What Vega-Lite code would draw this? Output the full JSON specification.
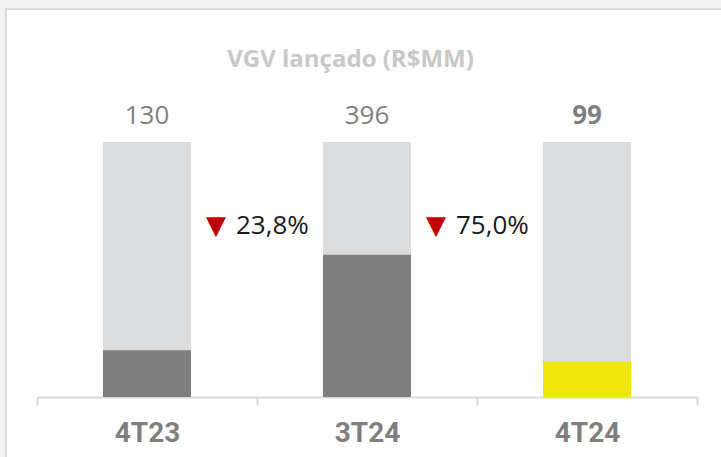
{
  "$schema": "https://vega.github.io/schema/vega-lite/v6.json",
  "width": 725,
  "height": 455,
  "autosize": {"type": "none"},
  "padding": {"left": 6, "top": 9, "right": 0, "bottom": 0},
  "background": "#f2f2f2",
  "config": {"view": {"fill": "white", "stroke": "#dcdcdc", "strokeWidth": 2}},
  "title": {
    "text": "VGV lançado (R$MM)",
    "font": "Open Sans",
    "fontSize": 24,
    "fontWeight": "bold",
    "color": "#c8c8c8",
    "anchor": "middle",
    "baseline": "alphabetic",
    "offset": 0,
    "dx": -18,
    "dy": 82
  },
  "data": {
    "values": [
      {"periodo": "4T23", "valor": 130, "rotulo": "130", "total": 710, "destaque": "anterior"},
      {"periodo": "3T24", "valor": 396, "rotulo": "396", "total": 710, "destaque": "anterior"},
      {"periodo": "4T24", "valor": 99, "rotulo": "99", "total": 710, "destaque": "atual"}
    ]
  },
  "encoding": {
    "x": {
      "field": "periodo",
      "type": "nominal",
      "sort": ["4T23", "3T24", "4T24"],
      "scale": {"type": "band", "range": [31, 691], "paddingInner": 0, "paddingOuter": 0},
      "axis": {
        "title": null,
        "orient": "bottom",
        "offset": -67,
        "labelAngle": 0,
        "domainColor": "#d9d9d9",
        "domainWidth": 2,
        "tickBand": "extent",
        "tickColor": "#d9d9d9",
        "tickWidth": 2,
        "tickSize": 8,
        "labelFont": "Roboto",
        "labelFontSize": 28,
        "labelFontWeight": "bold",
        "labelColor": "#7f7f7f",
        "labelPadding": 14,
        "grid": false
      }
    }
  },
  "layer": [
    {
      "mark": {"type": "bar", "width": {"band": 0.4}, "color": "#dadbdd"},
      "encoding": {
        "y": {"field": "total", "type": "quantitative", "scale": {"domain": [0, 710], "range": [388, 133], "nice": false}, "axis": null}
      }
    },
    {
      "mark": {"type": "bar", "width": {"band": 0.4}},
      "encoding": {
        "y": {"field": "valor", "type": "quantitative"},
        "color": {"field": "destaque", "type": "nominal", "scale": {"domain": ["anterior", "atual"], "range": ["#7f7f7f", "#efe60a"]}, "legend": null}
      }
    },
    {
      "transform": [{"filter": "datum.destaque == 'anterior'"}],
      "mark": {"type": "text", "font": "Open Sans", "fontSize": 26, "color": "#7f7f7f", "baseline": "alphabetic", "dy": -18},
      "encoding": {
        "y": {"field": "total", "type": "quantitative"},
        "text": {"field": "rotulo"}
      }
    },
    {
      "transform": [{"filter": "datum.destaque == 'atual'"}],
      "mark": {"type": "text", "font": "Open Sans", "fontSize": 26, "fontWeight": "bold", "color": "#7f7f7f", "baseline": "alphabetic", "dy": -18},
      "encoding": {
        "y": {"field": "total", "type": "quantitative"},
        "text": {"field": "rotulo"}
      }
    },
    {
      "data": {"values": [{"periodo": "4T23", "variacao": "23,8%"}, {"periodo": "3T24", "variacao": "75,0%"}]},
      "mark": {"type": "text", "text": "▼", "font": "DejaVu Sans", "fontSize": 26, "color": "#c00000", "baseline": "middle", "dx": -41},
      "encoding": {
        "x": {"field": "periodo", "type": "nominal", "bandPosition": 1},
        "y": {"datum": 476}
      }
    },
    {
      "data": {"values": [{"periodo": "4T23", "variacao": "23,8%"}, {"periodo": "3T24", "variacao": "75,0%"}]},
      "mark": {"type": "text", "font": "Open Sans", "fontSize": 26, "color": "#1a1a1a", "baseline": "middle", "align": "left", "dx": -21},
      "encoding": {
        "x": {"field": "periodo", "type": "nominal", "bandPosition": 1},
        "y": {"datum": 476},
        "text": {"field": "variacao"}
      }
    }
  ]
}
